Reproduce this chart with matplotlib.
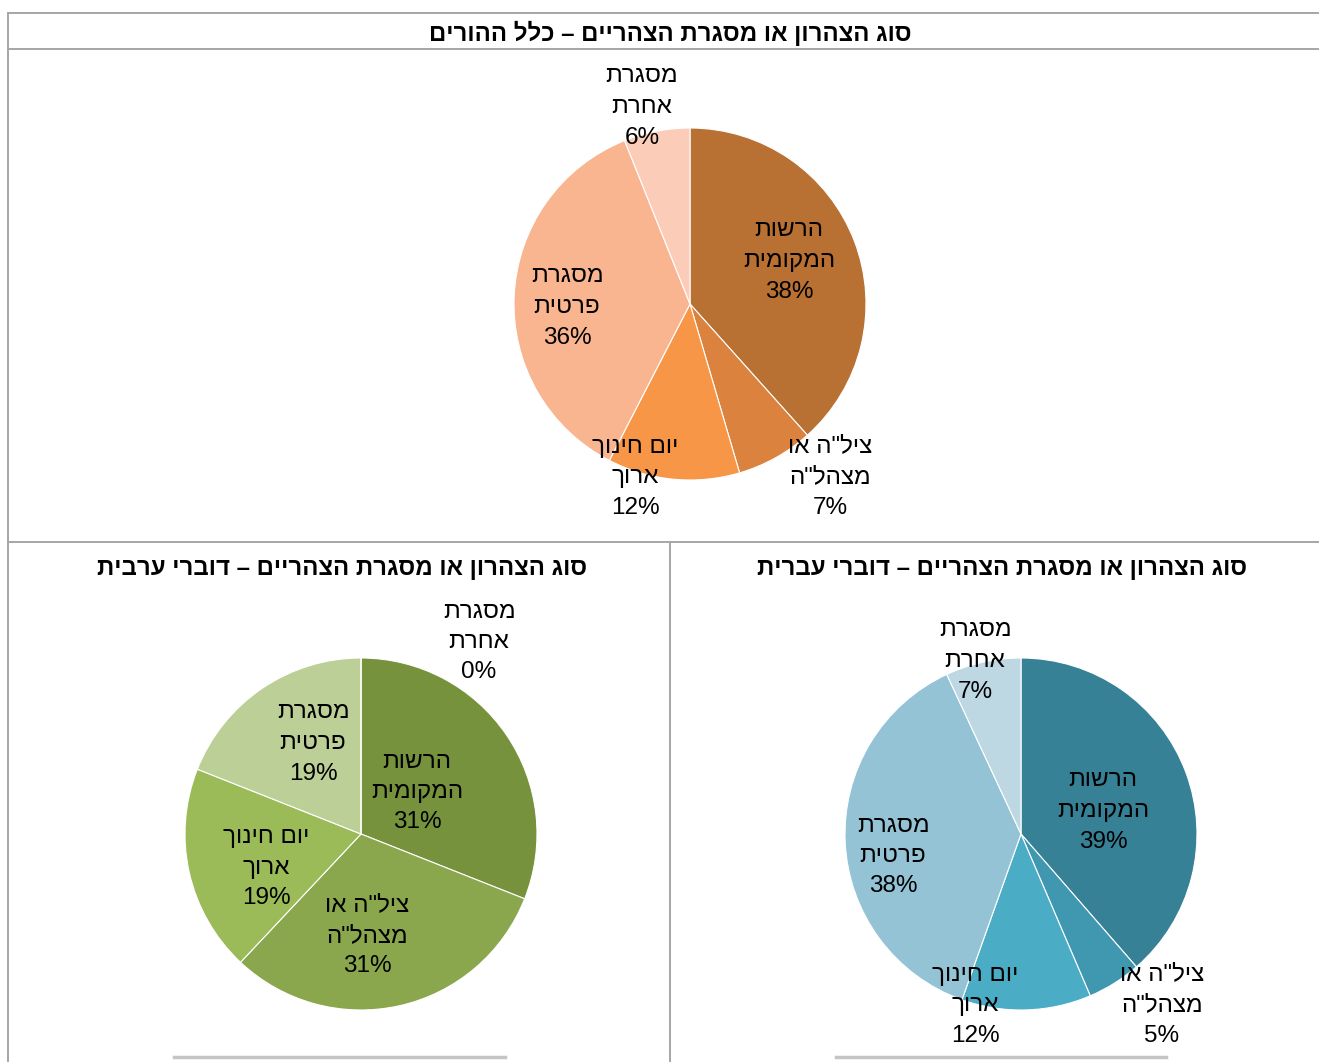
import matplotlib
import matplotlib.pyplot as plt
from matplotlib.lines import Line2D

matplotlib.use("Agg")
plt.rcParams["font.family"] = ["Liberation Sans", "DejaVu Sans"]

W, H = 1319, 1062

# data (logical Hebrew order; reversed for display below)
categories = ["הרשות\nהמקומית", "ציל\"ה או\nמצהל\"ה", "יום חינוך\nארוך", "מסגרת\nפרטית", "מסגרת\nאחרת"]
all_parents = [38, 7, 12, 36, 6]
hebrew_speakers = [39, 5, 12, 38, 7]
arabic_speakers = [31, 31, 19, 19, 0]

title_all = "סוג הצהרון או מסגרת הצהריים – כלל ההורים"
title_heb = "סוג הצהרון או מסגרת הצהריים – דוברי עברית"
title_arb = "סוג הצהרון או מסגרת הצהריים – דוברי ערבית"

colors_all = ["#B87033", "#DB823E", "#F79646", "#F9B590", "#FBCDB8"]
colors_heb = ["#378196", "#3F97B0", "#4BACC6", "#93C3D5", "#BDD8E3"]
colors_arb = ["#76923C", "#8AA74D", "#9BBB59", "#BBCF97", "#D7E4BD"]


def rtl(s):
    return "\n".join(line[::-1] for line in s.split("\n"))


def fx(px):
    return px / W


def fy(py):
    return 1 - py / H


R = 176


def draw_pie(fig, cx, cy, values, colors, label_px):
    box = 420
    ax = fig.add_axes([fx(cx - box / 2), fy(cy + box / 2), box / W, box / H])
    lim = box / 2 / R
    ax.pie(values, colors=colors, startangle=90, counterclock=False, radius=1,
           wedgeprops=dict(edgecolor="white", linewidth=0.8))
    ax.set_xlim(-lim, lim)
    ax.set_ylim(-lim, lim)
    ax.set_aspect("equal")
    ax.axis("off")
    for cat, val, (lx, ly) in zip(categories, values, label_px):
        ax.text((lx - cx) / R, (cy - ly) / R, rtl(cat) + "\n" + f"{val}%",
                ha="center", va="center", multialignment="center",
                fontsize=17.5, linespacing=1.5, color="black", clip_on=False)


fig = plt.figure(figsize=(W / 100, H / 100), dpi=100)

border = "#A6A6A6"
for x0, y0, x1, y1 in [(8, 13, W, 13), (8, 49, W, 49), (8, 542, W, 542),
                       (8, 13, 8, H), (670, 542, 670, H)]:
    fig.add_artist(Line2D([fx(x0), fx(x1)], [fy(y0), fy(y1)], color=border, lw=1.4))
for x0, x1 in [(174, 505), (836, 1166)]:
    fig.add_artist(Line2D([fx(x0), fx(x1)], [fy(1057), fy(1057)], color="#C4C4C4", lw=2.5))

fig.text(fx(670), fy(33), rtl(title_all), ha="center", va="center", fontsize=17.3, fontweight="bold")
fig.text(fx(342), fy(569), rtl(title_arb), ha="center", va="center", fontsize=17.3, fontweight="bold")
fig.text(fx(1002), fy(569), rtl(title_heb), ha="center", va="center", fontsize=17.3, fontweight="bold")

draw_pie(fig, 690, 304, all_parents, colors_all,
         [(789, 261), (830, 477), (635, 477), (567, 307), (642, 107)])
draw_pie(fig, 361, 834, arabic_speakers, colors_arb,
         [(417, 792), (367, 936), (266, 868), (313, 743), (479, 642)])
draw_pie(fig, 1021, 834, hebrew_speakers, colors_heb,
         [(1103, 811), (1162, 1005), (975, 1005), (893, 856), (975, 661)])

fig.savefig("out.png", dpi=100)
